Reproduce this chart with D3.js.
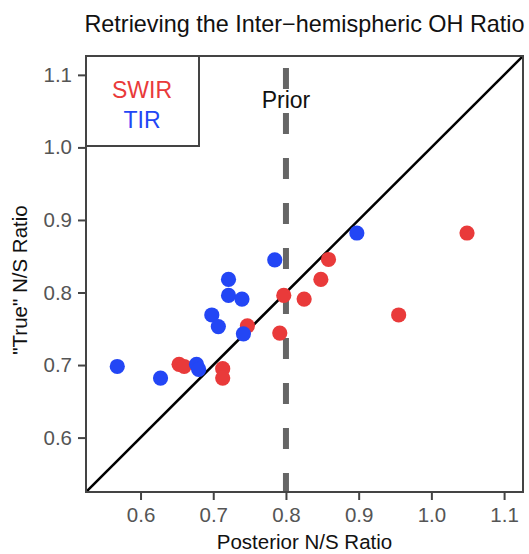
<!DOCTYPE html>
<html>
<head>
<meta charset="utf-8">
<script src="https://cdn.jsdelivr.net/npm/d3@7"></script>
<style>
  body { margin: 0; background: #fff; }
  text { font-family: "Liberation Sans", Arial, sans-serif; }
</style>
</head>
<body>
<div class="js-chart"></div>
<script>
'use strict';

// values
var swirPosterior = [0.653, 0.660, 0.713, 0.713, 0.747, 0.7915, 0.797, 0.825, 0.848, 0.8585, 0.955, 1.049];
var swirTrue      = [0.701, 0.698, 0.695, 0.682, 0.754, 0.744, 0.796, 0.791, 0.818, 0.8455, 0.769, 0.882];
var tirPosterior  = [0.568, 0.6275, 0.677, 0.680, 0.698, 0.707, 0.721, 0.721, 0.7395, 0.7415, 0.7846, 0.8975];
var tirTrue       = [0.698, 0.682, 0.701, 0.694, 0.769, 0.753, 0.818, 0.796, 0.791, 0.743, 0.845, 0.882];
var tickValues = [0.6, 0.7, 0.8, 0.9, 1.0, 1.1];
var priorRatio = 0.8;
var axisRange = [0.525, 1.126];

var red = '#e93a3a', blue = '#2346f5';

var W = 529, H = 554;
var plot = {l: 86, r: 523, t: 56, b: 492};

var svg = d3.select('.js-chart').append('svg')
    .attr('width', W)
    .attr('height', H);

var x = d3.scaleLinear().domain(axisRange).range([plot.l, plot.r]);
var y = d3.scaleLinear().domain(axisRange).range([plot.b, plot.t]);

//title
svg.append('text')
    .attr('x', (plot.l + plot.r) / 2)
    .attr('y', 32)
    .attr('text-anchor', 'middle')
    .style('font-size', '23.4px')
    .style('fill', '#111')
    .text('Retrieving the Inter\u2212hemispheric OH Ratio');

//axes
var xAxis = svg.append('g')
    .attr('transform', 'translate(0,' + plot.b + ')')
    .call(d3.axisBottom(x).tickValues(tickValues).tickFormat(d3.format('.1f')).tickSize(8).tickPadding(7));
var yAxis = svg.append('g')
    .attr('transform', 'translate(' + plot.l + ',0)')
    .call(d3.axisLeft(y).tickValues(tickValues).tickFormat(d3.format('.1f')).tickSize(8).tickPadding(6));

[xAxis, yAxis].forEach(function (ax) {
    ax.select('.domain').remove();
    ax.selectAll('line').style('stroke', '#444').style('stroke-width', 2);
    ax.selectAll('text').style('font-size', '20.5px').style('fill', '#555')
        .style('font-family', '"Liberation Sans", Arial, sans-serif');
});

//axis titles
svg.append('text')
    .attr('x', (plot.l + plot.r) / 2)
    .attr('y', 549)
    .attr('text-anchor', 'middle')
    .style('font-size', '20.5px')
    .style('fill', '#111')
    .text('Posterior N/S Ratio');

svg.append('text')
    .attr('transform', 'translate(27,' + ((plot.t + plot.b) / 2 + 6) + ') rotate(-90)')
    .attr('text-anchor', 'middle')
    .style('font-size', '20.5px')
    .style('fill', '#111')
    .text('"True" N/S Ratio');

svg.append('clipPath').attr('id', 'plotclip')
    .append('rect')
    .attr('x', plot.l).attr('y', plot.t)
    .attr('width', plot.r - plot.l).attr('height', plot.b - plot.t);

var vis = svg.append('g').attr('clip-path', 'url(#plotclip)');

//prior line - dashed
vis.append('line')
    .attr('x1', x(priorRatio)).attr('x2', x(priorRatio))
    .attr('y1', y(axisRange[1])).attr('y2', y(axisRange[0]))
    .style('stroke', '#666')
    .style('stroke-width', 6)
    .style('stroke-dasharray', '21,24')
    .style('stroke-dashoffset', 33);

svg.append('text')
    .attr('x', x(priorRatio))
    .attr('y', 108)
    .attr('text-anchor', 'middle')
    .style('font-size', '23px')
    .style('fill', '#111')
    .text('Prior');

//1:1 line
vis.append('line')
    .attr('x1', x(axisRange[0])).attr('y1', y(axisRange[0]))
    .attr('x2', x(axisRange[1])).attr('y2', y(axisRange[1]))
    .style('stroke', '#000')
    .style('stroke-width', 2.5);

function drawPoints(xs, ys, color, cls) {
    vis.selectAll('.' + cls)
        .data(d3.zip(xs, ys))
        .enter()
        .append('circle')
        .attr('class', cls)
        .attr('cx', function (d) { return x(d[0]); })
        .attr('cy', function (d) { return y(d[1]); })
        .attr('r', 7.6)
        .style('fill', color);
}

drawPoints(swirPosterior, swirTrue, red, 'pt-swir');
drawPoints(tirPosterior, tirTrue, blue, 'pt-tir');

//legend box
svg.append('rect')
    .attr('x', plot.l).attr('y', plot.t)
    .attr('width', 113).attr('height', 90)
    .style('fill', 'none')
    .style('stroke', '#444')
    .style('stroke-width', 2);

svg.append('text')
    .attr('x', 142).attr('y', 98)
    .attr('text-anchor', 'middle')
    .style('font-size', '23px')
    .style('fill', red)
    .text('SWIR');
svg.append('text')
    .attr('x', 142).attr('y', 128)
    .attr('text-anchor', 'middle')
    .style('font-size', '23px')
    .style('fill', blue)
    .text('TIR');

//frame
svg.append('rect')
    .attr('x', plot.l).attr('y', plot.t)
    .attr('width', plot.r - plot.l).attr('height', plot.b - plot.t)
    .style('fill', 'none')
    .style('stroke', '#444')
    .style('stroke-width', 2);
</script>
</body>
</html>
